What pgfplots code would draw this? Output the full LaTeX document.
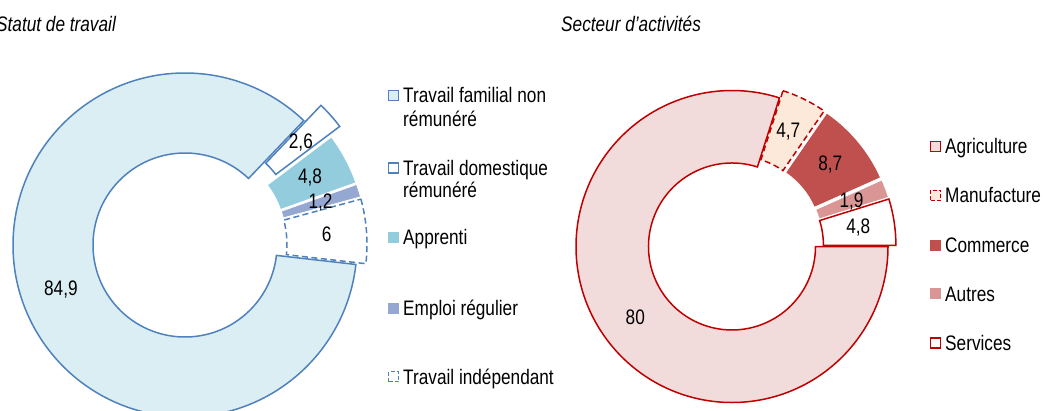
\documentclass[border=0pt]{standalone}
\usepackage{pgfplots}
\pgfplotsset{compat=1.18}
\usepackage{fontspec}
\setmainfont{Liberation Sans}[FakeStretch=0.82]
\definecolor{bblue}{HTML}{4F81BD}
\definecolor{lblue}{HTML}{DBEEF4}
\definecolor{teal1}{HTML}{93CDDD}
\definecolor{lav}{HTML}{95A8D2}
\definecolor{rred}{HTML}{C00000}
\definecolor{pink1}{HTML}{F2DCDB}
\definecolor{peach}{HTML}{FDE9D9}
\definecolor{comm}{HTML}{C0504D}
\definecolor{autr}{HTML}{D99694}
% #1 cx, #2 cy, #3 start angle, #4 end angle, #5 inner r, #6 outer r, #7 explode, #8 style
\newcommand\slice[8]{%
  \pgfmathsetmacro\sbis{(#3+#4)/2}%
  \pgfmathsetmacro\sox{#1+#7*cos(\sbis)}%
  \pgfmathsetmacro\soy{#2+#7*sin(\sbis)}%
  \pgfmathsetmacro\sax{\sox+#6*cos(#3)}\pgfmathsetmacro\say{\soy+#6*sin(#3)}%
  \pgfmathsetmacro\sbx{\sox+#5*cos(#4)}\pgfmathsetmacro\sby{\soy+#5*sin(#4)}%
  \edef\temp{\noexpand\path[#8] (\sax,\say) arc[start angle=#3,end angle=#4,radius=#6pt] -- (\sbx,\sby) arc[start angle=#4,end angle=#3,radius=#5pt] -- cycle;}%
  \temp}
% #1 cx, #2 cy, #3 a1, #4 a2, #5 mid r, #6 explode, #7 text
\newcommand\slabel[7]{%
  \pgfmathsetmacro\sbis{(#3+#4)/2}%
  \pgfmathsetmacro\lx{#1+(#5+#6)*cos(\sbis)}%
  \pgfmathsetmacro\ly{#2+(#5+#6)*sin(\sbis)}%
  \edef\temp{\noexpand\node at (\lx,\ly) {#7};}%
  \temp}
% Statut de travail: 84.9, 2.6, 4.8, 1.2, 6 (total 99.5)
\pgfmathsetmacro\LA{-6.5}
\pgfmathsetmacro\LB{\LA-84.9/99.5*360}
\pgfmathsetmacro\LC{\LB-2.6/99.5*360}
\pgfmathsetmacro\LD{\LC-4.8/99.5*360}
\pgfmathsetmacro\LE{\LD-1.2/99.5*360}
\pgfmathsetmacro\LF{\LE-6/99.5*360}
% Secteur: 80, 4.7, 8.7, 1.9, 4.8 (total 100.1)
\pgfmathsetmacro\RA{0}
\pgfmathsetmacro\RB{\RA-80/100.1*360}
\pgfmathsetmacro\RC{\RB-4.7/100.1*360}
\pgfmathsetmacro\RD{\RC-8.7/100.1*360}
\pgfmathsetmacro\RE{\RD-1.9/100.1*360}
\pgfmathsetmacro\RF{\RE-4.8/100.1*360}
\begin{document}%
\fontsize{21}{24}\selectfont%
\begin{tikzpicture}
\begin{axis}[x=1pt,y=1pt,xmin=0,xmax=1043,ymin=0,ymax=410,
  hide axis,scale only axis,clip=false]
\coordinate (BL) at (0,0);
\coordinate (TR) at (1043,410);
% left donut
\slice{185}{165}{\LA}{\LB}{92}{172}{0}{fill=lblue,draw=bblue,line width=1.5pt}
\slice{185}{165}{\LB}{\LC}{92}{172}{23}{fill=white,draw=bblue,line width=1.5pt}
\slice{185}{165}{\LC}{\LD}{92}{172}{10}{fill=teal1,draw=white,line width=0.8pt}
\slice{185}{165}{\LD}{\LE}{92}{172}{10}{fill=lav,draw=white,line width=0.8pt}
\slice{185}{165}{\LE}{\LF}{92}{172}{10}{fill=white,draw=bblue,line width=1.5pt,dash pattern=on 6pt off 3.5pt}
\slabel{185}{165}{\LA}{\LB}{132}{0}{84,9}
\slabel{185}{165}{\LB}{\LC}{132}{23}{2,6}
\slabel{185}{165}{\LC}{\LD}{132}{10}{4,8}
\slabel{185}{165}{\LD}{\LE}{132}{10}{1,2}
\slabel{185}{165}{\LE}{\LF}{132}{10}{6}
% right donut
\slice{732}{163.5}{\RA}{\RB}{83.5}{156}{0}{fill=pink1,draw=rred,line width=1.5pt}
\slice{732}{163.5}{\RB}{\RC}{83.5}{156}{8}{fill=peach,draw=rred,line width=1.5pt,dash pattern=on 6pt off 3.5pt}
\slice{732}{163.5}{\RC}{\RD}{83.5}{156}{8}{fill=comm,draw=white,line width=0.8pt}
\slice{732}{163.5}{\RD}{\RE}{83.5}{156}{8}{fill=autr,draw=white,line width=0.8pt}
\slice{732}{163.5}{\RE}{\RF}{83.5}{156}{8}{fill=white,draw=rred,line width=1.5pt}
\slabel{732}{163.5}{\RA}{\RB}{119.75}{0}{80}
\slabel{732}{163.5}{\RB}{\RC}{119.75}{8}{4,7}
\slabel{732}{163.5}{\RC}{\RD}{119.75}{8}{8,7}
\slabel{732}{163.5}{\RD}{\RE}{119.75}{8}{1,9}
\slabel{732}{163.5}{\RE}{\RF}{119.75}{8}{4,8}
% titles
\node[anchor=base west,inner sep=0,font=\itshape] at (-4,378.5) {Statut de travail};
\node[anchor=base west,inner sep=0,font=\itshape] at (561,378.5) {Secteur d’activités};
% left legend
\path[fill=lblue,draw=bblue,line width=1.5pt] (388.5,309.7) rectangle (398.5,319.7);
\node[anchor=base west,inner sep=0] at (403,307.2) {Travail familial non};
\node[anchor=base west,inner sep=0] at (403,283.5) {rémunéré};
\path[fill=white,draw=bblue,line width=1.5pt] (388.5,237) rectangle (398.5,247);
\node[anchor=base west,inner sep=0] at (403,234.5) {Travail domestique};
\node[anchor=base west,inner sep=0] at (403,212.5) {rémunéré};
\path[fill=teal1] (388,167.5) rectangle (399,178.5);
\node[anchor=base west,inner sep=0] at (403,165.5) {Apprenti};
\path[fill=lav] (388,96.5) rectangle (399,107.5);
\node[anchor=base west,inner sep=0] at (403,94.5) {Emploi régulier};
\path[fill=white,draw=bblue,line width=1.5pt,dash pattern=on 4pt off 2pt] (388.5,28.3) rectangle (398.5,38.3);
\node[anchor=base west,inner sep=0] at (403,25.8) {Travail indépendant};
% right legend
\path[fill=pink1,draw=rred,line width=1.5pt] (930.5,258.7) rectangle (940.5,268.7);
\node[anchor=base west,inner sep=0] at (945,256.2) {Agriculture};
\path[fill=peach,draw=rred,line width=1.5pt,dash pattern=on 4pt off 2pt] (930.5,209.7) rectangle (940.5,219.7);
\node[anchor=base west,inner sep=0] at (945,207.2) {Manufacture};
\path[fill=comm] (930,159.5) rectangle (941,170.5);
\node[anchor=base west,inner sep=0] at (945,157.5) {Commerce};
\path[fill=autr] (930,110.8) rectangle (941,121.8);
\node[anchor=base west,inner sep=0] at (945,108.8) {Autres};
\path[fill=white,draw=rred,line width=1.5pt] (930.5,62.2) rectangle (940.5,72.2);
\node[anchor=base west,inner sep=0] at (945,59.7) {Services};
\end{axis}
\pgfresetboundingbox
\path[use as bounding box] (BL) rectangle (TR);
\end{tikzpicture}%
\end{document}
